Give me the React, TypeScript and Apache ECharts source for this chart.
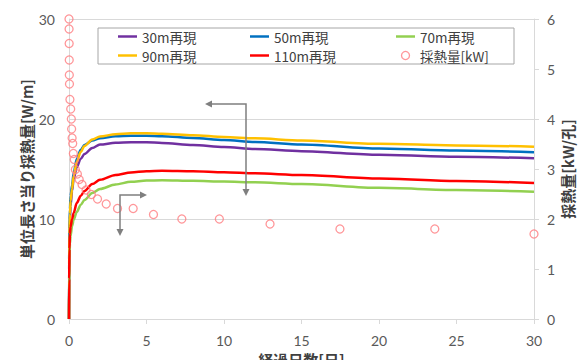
import React, { useEffect, useRef } from "react";
import * as echarts from "echarts";

// elapsed days for the reproduced (simulated) curves
const days = [0, 0.01, 0.03, 0.06, 0.1, 0.2, 0.3, 0.5, 0.75, 1, 1.5, 2, 3, 4, 5, 6, 8, 10, 12, 15, 20, 25, 30];
// heat extraction per unit length [W/m]
const r30 = [0, 5, 8, 10, 11.3, 12.8, 14.0, 15.2, 16.0, 16.5, 17.1, 17.45, 17.62, 17.68, 17.68, 17.6, 17.4, 17.2, 17.0, 16.78, 16.42, 16.22, 16.07];
const r50 = [0, 6, 9, 11, 12.3, 13.4, 14.6, 16.0, 16.9, 17.4, 17.85, 18.08, 18.28, 18.33, 18.33, 18.28, 18.1, 17.9, 17.7, 17.45, 17.05, 16.85, 16.67];
const r70 = [0, 3.5, 6, 7.5, 8.3, 9.3, 9.9, 10.7, 11.4, 11.9, 12.6, 13.0, 13.45, 13.72, 13.84, 13.88, 13.82, 13.75, 13.67, 13.5, 13.12, 12.9, 12.72];
const r90 = [0, 5.5, 8.5, 10.5, 11.8, 13.0, 14.3, 15.7, 16.7, 17.3, 17.95, 18.25, 18.48, 18.57, 18.57, 18.52, 18.38, 18.2, 18.07, 17.85, 17.52, 17.36, 17.23];
const r110 = [0, 4, 7, 8.5, 9.2, 10.0, 10.6, 11.6, 12.3, 12.8, 13.5, 13.92, 14.4, 14.65, 14.78, 14.83, 14.78, 14.68, 14.57, 14.4, 14.05, 13.8, 13.6];

// measured heat extraction [kW/hole]
const mDays = [0, 0.005, 0.01, 0.015, 0.02, 0.03, 0.06, 0.11, 0.15, 0.17, 0.2, 0.24, 0.28, 0.34, 0.41, 0.54, 0.66, 0.84, 1.1, 1.44, 1.84, 2.4, 3.13, 4.14, 5.45, 7.28, 9.7, 12.97, 17.48, 23.6, 30];
const mKW = [6.0, 5.8, 5.51, 5.18, 4.88, 4.7, 4.39, 4.2, 4.0, 3.8, 3.62, 3.51, 3.31, 3.19, 2.99, 2.9, 2.79, 2.69, 2.58, 2.49, 2.4, 2.3, 2.21, 2.21, 2.09, 2.0, 2.0, 1.9, 1.8, 1.8, 1.7];

const seriesNames = ["30m再現", "50m再現", "70m再現", "90m再現", "110m再現", "採熱量[kW]"];
const seriesColors = ["#7030A0", "#0070C0", "#92D050", "#FFC000", "#FF0000", "#FF7C80"];

const NUM_FONT = "Lato, 'Noto Sans', sans-serif";
const JP_FONT = "'Noto Sans CJK JP', sans-serif";
const LINE_ICON = "path://M0 0H20V2.6H0Z";

function zip(xs: number[], ys: number[]) {
  return xs.map((x, i) => [x, ys[i]]);
}

export default function App() {
  const ref = useRef<HTMLDivElement>(null);
  useEffect(() => {
    if (!ref.current) return;
    const chart = echarts.init(ref.current, null, { renderer: "svg" });
    const lineSets = [r30, r50, r70, r90, r110];
    const lineOrder = [0, 1, 3, 2, 4];
    const lineSeries = lineOrder.map((i) => ({
      name: seriesNames[i],
      type: "line",
      data: zip(days, lineSets[i]),
      yAxisIndex: 0,
      symbol: "none",
      smooth: 0.3,
      smoothMonotone: "x",
      lineStyle: { color: seriesColors[i], width: 2.5 },
      itemStyle: { color: seriesColors[i] },
      z: 3,
    }));
    const legendText = { fontFamily: JP_FONT, fontSize: 13.5, color: "#404040", lineHeight: 15 };
    const lineItem = (name: string) => ({ name, icon: LINE_ICON });
    const mkLegend = (left: number, names: any[]) => ({
      orient: "vertical",
      left,
      top: 29,
      itemWidth: 19,
      itemHeight: 8,
      itemGap: 4,
      padding: 0,
      symbolKeepAspect: true,
      textStyle: legendText,
      data: names,
      z: 6,
    });
    const grey = "#7F7F7F";
    const arrowHead = (x: number, y: number, dir: string) => {
      const s = 5;
      let pts: number[][];
      if (dir === "left") pts = [[x, y], [x + s * 1.4, y - s * 0.7], [x + s * 1.4, y + s * 0.7]];
      else if (dir === "right") pts = [[x, y], [x - s * 1.4, y - s * 0.7], [x - s * 1.4, y + s * 0.7]];
      else pts = [[x, y], [x - s * 0.7, y - s * 1.4], [x + s * 0.7, y - s * 1.4]];
      return { type: "polygon", shape: { points: pts }, style: { fill: grey }, z: 10 };
    };
    const titleStyle = { fontFamily: JP_FONT, fontSize: 15, fontWeight: "bold", color: "#404040" };
    chart.setOption({
      animation: false,
      backgroundColor: "#ffffff",
      grid: { left: 69, right: 48, top: 19, bottom: 41, outerBoundsMode: "none", containLabel: false },
      legend: [
        mkLegend(118, [lineItem("30m再現"), lineItem("90m再現")]),
        mkLegend(250, [lineItem("50m再現"), lineItem("110m再現")]),
        mkLegend(396, [
          lineItem("70m再現"),
          { name: "採熱量[kW]", icon: "circle", itemStyle: { color: "#ffffff", borderColor: "#FF7C80", borderWidth: 1.3 } },
        ]),
      ],
      graphic: [
        { type: "rect", shape: { x: 98, y: 28, width: 416, height: 36 }, style: { fill: "#ffffff", stroke: "#A6A6A6", lineWidth: 1 }, z: 1, silent: true },
        { type: "polyline", shape: { points: [[208, 104], [246, 104], [246, 192]] }, style: { stroke: grey, lineWidth: 1.5, fill: null }, z: 10 },
        arrowHead(205, 104, "left"),
        arrowHead(246, 196, "down"),
        { type: "polyline", shape: { points: [[143, 195], [120, 195], [120, 232]] }, style: { stroke: grey, lineWidth: 1.5, fill: null }, z: 10 },
        arrowHead(147, 195, "right"),
        arrowHead(120, 236, "down"),
      ],
      xAxis: {
        type: "value",
        min: 0,
        max: 30,
        interval: 5,
        name: "経過日数[日]",
        nameLocation: "middle",
        nameGap: 33,
        nameMoveOverlap: false,
        nameTextStyle: titleStyle,
        axisLine: { show: true, lineStyle: { color: "#D9D9D9", width: 1 } },
        axisTick: { show: true, length: 5, lineStyle: { color: "#D9D9D9" } },
        axisLabel: { fontFamily: NUM_FONT, fontSize: 14, color: "#595959", margin: 14 },
        splitLine: { show: false },
      },
      yAxis: [
        {
          type: "value",
          min: 0,
          max: 30,
          interval: 10,
          position: "left",
          name: "単位長さ当り採熱量[W/m]",
          nameLocation: "middle",
          nameRotate: 90,
          nameGap: 35,
          nameMoveOverlap: false,
          nameTextStyle: titleStyle,
          axisLine: { show: true, lineStyle: { color: "#D9D9D9", width: 1 } },
          axisTick: { show: false },
          axisLabel: { fontFamily: NUM_FONT, fontSize: 14, color: "#595959", margin: 14 },
          splitLine: { show: true, lineStyle: { color: "#D9D9D9", width: 1 } },
        },
        {
          type: "value",
          min: 0,
          max: 6,
          interval: 1,
          position: "right",
          name: "採熱量[kW/孔]",
          nameLocation: "middle",
          nameRotate: 90,
          nameGap: 26,
          nameMoveOverlap: false,
          nameTextStyle: titleStyle,
          axisLine: { show: true, lineStyle: { color: "#D9D9D9", width: 1 } },
          axisTick: { show: true, length: 5, lineStyle: { color: "#D9D9D9" } },
          axisLabel: { fontFamily: NUM_FONT, fontSize: 14, color: "#595959", margin: 13 },
          splitLine: { show: false },
        },
      ],
      series: [
        ...lineSeries,
        {
          name: seriesNames[5],
          type: "scatter",
          yAxisIndex: 1,
          data: zip(mDays, mKW),
          symbol: "circle",
          symbolSize: 8,
          itemStyle: { color: "rgba(255,255,255,0)", borderColor: "#FF7C80", borderWidth: 1.3 },
          z: 4,
        },
      ],
    });
    return () => chart.dispose();
  }, []);
  return <div ref={ref} style={{ width: 582, height: 360, position: "absolute", left: 0, top: 0 }} />;
}
